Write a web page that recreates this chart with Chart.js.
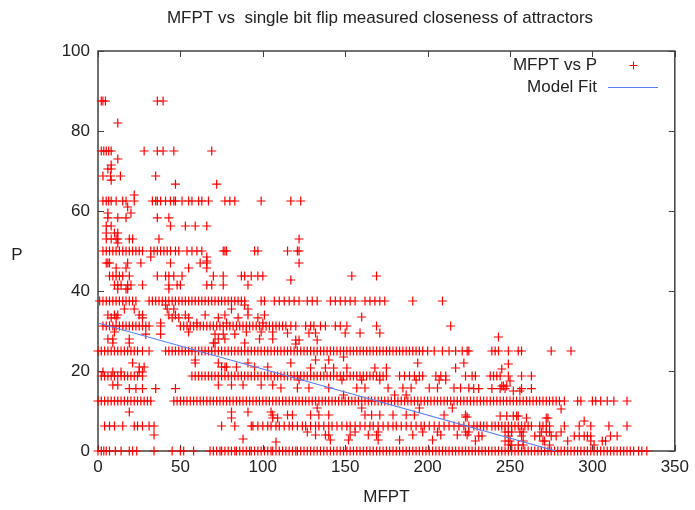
<!DOCTYPE html>
<html><head><meta charset="utf-8">
<script src="https://cdn.jsdelivr.net/npm/chart.js@4"></script>
<style>html,body{margin:0;padding:0;background:#fff}#wrap{width:695px;height:510px}</style>
</head><body><div id="wrap"><canvas id="c" width="695" height="510"></canvas></div>
<script>
const titleText = "MFPT vs  single bit flip measured closeness of attractors";
const xLabel = "MFPT";
const yLabel = "P";
const seriesName = "MFPT vs P";
const fitName = "Model Fit";
const xTickValues = [0, 50, 100, 150, 200, 250, 300, 350];
const yTickValues = [0, 20, 40, 60, 80, 100];

// P levels where MFPT values line up in rows
const rowLevels = [0, 6.25, 12.5, 18.75, 25, 31.25, 37.5, 43.75, 50, 56.25, 62.5, 68.75, 75, 87.5];
const mfptAtP0 = [0,2,3.5,5,7,10.5,14,19,21,23.5,34,45,50,52,58,68,70,72,74,75,77,79,81,83,84,86,88,90,92,93,95,97,99,101,103,105,106,108,110,112,114,116,118,120,121,123,125,127,129,131,133,135,137,139,141,143,145,147,149,151,153,155,157,159,161,163,165,167,169,171,173,175,177,179,181,183,185,187,189,191,193,195,197,199,201,203,205,207,209,211,213,215,217,219,221,223,225,227,229,231,233,235,237,239,241,243,245,247,249,251,253,255,257,259,261,263,265,267,269,271,273,275,277,279,281,283,285,287,289,291,293,295,297,299,301,303,305,307,309,311,313,315,317,319,321,323,325,328,330,333];
const mfptAtP6 = [4,7,10,15,22,24,27,31,34,75,83,93,94,97,100,103,105,108,110,113,116,118,121,124,126,129,132,134,137,140,142,145,148,151,153,156,159,162,165,167,170,173,176,179,181,184,187,190,193,196,198,201,204,207,210,213,216,219,222,225,228,230,232,234,236,239,241,243,245,247,249,251,253,255,257,259,261,263,268,270,272,274,283,292,299,310,321];
const mfptAtP12 = [0,2,4,6,8,10,12,14,16,18,20,22,24,26,28,30,32,46,48,50,52,54,56,58,60,62,64,66,68,70,72,74,76,78,80,82,84,86,88,90,92,94,96,98,100,102,104,106,108,110,112,114,116,118,120,122,124,126,128,130,132,134,136,138,140,142,144,146,148,150,152,154,156,158,160,162,164,166,168,170,172,174,176,178,180,182,184,186,188,190,192,194,196,198,200,202,204,206,208,210,212,214,216,218,220,222,224,226,228,230,232,234,236,238,240,242,244,246,248,250,252,254,256,258,260,262,264,266,268,270,272,274,276,278,280,283,291,293,300,302,305,309,313,321];
const mfptAtP18 = [2,4,6,8,10,12,14,16,18,20,22,24,27,57,59,61,63,65,67,69,71,73,75,77,79,81,83,85,87,89,91,93,95,97,99,101,103,105,107,109,111,113,115,117,119,121,123,125,127,129,131,133,135,137,139,141,143,145,147,149,151,153,155,157,159,161,163,165,167,169,171,173,175,183,186,189,192,195,197,205,208,211,223,227,229,238,240,242,244,249,257,263];
const mfptAtP25 = [0,2,4,6,8,10,12,14,16,18,20,22,24,27,31,41,43,45,47,49,51,53,55,57,59,61,63,65,67,69,71,73,75,77,79,81,83,85,87,89,91,93,95,97,99,101,103,105,107,109,111,113,115,117,119,121,123,125,127,129,131,133,135,137,139,141,143,145,147,149,151,153,155,157,159,161,163,165,167,169,171,173,175,177,179,181,183,185,187,189,191,193,195,197,200,204,209,213,217,221,224,225,239,241,243,249,255,257,275,287];
const mfptAtP31 = [3,5,7,9,11,13,15,17,19,21,23,25,27,29,31,38,50,52,54,56,58,60,62,64,66,68,70,72,74,76,78,80,82,84,86,88,90,92,94,96,98,100,102,104,106,108,110,112,114,117,120,126,129,131,135,138,144,147,151,169,214];
const mfptAtP37 = [1,3,5,7,9,11,13,15,17,19,21,23,31,33,35,37,39,41,43,45,47,49,51,53,55,57,59,61,63,65,67,69,71,73,75,77,79,81,83,85,87,89,99,101,107,110,113,116,119,122,127,130,133,141,144,147,150,153,156,162,165,168,171,174,191,209];
const mfptAtP43 = [7,9,11,13,15,19,36,41,43,46,51,70,76,87,89,93,97,100,154,169];
const mfptAtP50 = [3,5,7,9,11,13,15,17,19,21,23,25,27,32,34,36,38,40,42,44,47,49,54,57,60,63,76,77,78,95,97,115,121,122];
const mfptAtP56 = [5,8,44,53,59,66];
const mfptAtP62 = [3,5,6.5,8,11,15,17,22,33,35,36,38,41,44,46,47,51,55,57,61,63,67,77,80,83,99,117,123];
const mfptAtP68 = [3,7.6,13.6,35];
const mfptAtP75 = [2,3.5,5,6.5,8,28,36,39.5,46,69];
const mfptAtP87 = [2,3,4.5,36,39.5];
const rowMfpt = [mfptAtP0, mfptAtP6, mfptAtP12, mfptAtP18, mfptAtP25, mfptAtP31, mfptAtP37, mfptAtP43, mfptAtP50, mfptAtP56, mfptAtP62, mfptAtP68, mfptAtP75, mfptAtP87];

// points off the main rows
const otherMfpt = [12,12,8,6,8,8,47,72,22,18,6,20,6,12,17,36,43,5,10,12,5,8,11,12,19,21,37,122,12,32,66,66,5,6,7,18,26,44,62,66,122,11,17,55,66,117,10,12,14,18,20,27,43,48,50,66,69,76,91,12,17,18,43,16,22,42,46,81,91,41,89,6,10,12,25,27,43,47,53,65,77,91,101,8,11,27,45,49,55,73,85,97,160,38,60,78,100,10,55,90,99,106,29,38,71,76,83,115,128,132,150,159,171,6,9,19,73,77,98,106,120,122,133,243,9,19,70,71,89,120,21,59,73,91,59,132,140,149,117,194,222,249,25,28,75,77,78,84,95,103,129,138,143,151,168,175,217,245,3,9,14,25,27,122,148,160,171,193,207,211,250,9,12,73,81,88,99,106,245,246,248,19,23,27,35,47,111,121,128,140,157,162,176,185,190,201,206,216,220,225,228,231,239,244,247,257,263,149,180,187,252,256,19,81,91,105,133,160,195,215,281,106,115,118,129,134,140,162,166,171,179,187,192,210,223,244,248,252,254,255,81,106,109,223,224,260,272,273,295,34,88,108,127,156,170,197,206,132,138,140,153,164,169,191,208,218,224,141,152,170,183,203,231,233,249,257,265,268,275,278,289,292,295,297,299,311,315,229,247,250,258,270,271,285,299,306,308,249,251,255,258,274,301,223,225,247,249,251,256,258,269,272,274,281];
const otherP = [82,73,71.5,70.5,70.5,67.7,66.7,66.7,64,61,59.5,59.5,58.3,58.3,58.3,58.3,58.3,54.5,54.5,54.5,53,53,53,53,53,53,53,53,52,48.5,48.5,47.5,47,47,47,47,47,47,47,47,47,45.75,45.75,45.75,45.75,42.75,41.5,41.5,41.5,41.5,41.5,41.5,41.5,41.5,41.5,41.5,41.5,41.5,41.5,40.5,40.5,40.5,40.5,35.5,35.5,35.5,35.5,35.5,35.5,36.5,36.5,34,34,34,34,34,34,34,34,34,34,34,34,33.3,33.3,33.3,33.3,33.3,33.3,33.3,33.3,33.3,33.5,32,32,32,32,29.75,29.75,29.75,29.75,29.75,29.2,29.2,29.2,29.2,29.2,29.5,29.5,29.5,29.5,29.5,29.5,28,28,28,28,28,28,28,27.75,27.75,27.75,28.5,27,27,27,27,27,26.75,22,22,22,22,22.75,22.75,22.75,23.5,22,22,22,21.75,21,21,21,21,21,21,21,21,20.75,20.75,20.75,20.75,20.75,20.75,20.75,20.5,19.75,19.75,19.75,19.75,19.75,17.75,17.75,17.75,17.75,17.75,17.75,17.75,17.5,16.5,16.5,16.5,16.5,16.5,16.5,16.5,16.25,16.25,16.25,15.6,15.6,15.6,15.6,15.6,15.75,15.75,15.75,15.75,15.75,15.75,15.75,15.75,15.75,15.75,15.75,15.75,15.75,15.75,15.6,15.6,15.6,15.6,15.6,15.6,15.6,14,14,14,15,15,9.75,9.75,9.75,9.75,10.75,10.75,10.75,10.75,10.5,9,9,9,9,9,9,9,9,9,9,9,9,9,9,8.75,8.75,8.75,8.75,8.75,8.25,8.25,8.25,8.5,8.5,8.25,8.25,8.25,7.5,4,3,2.25,4.75,4.75,4.75,4.75,4.75,4,4,4,4,4,4,4,4,4,4,2.75,2.75,2.75,2.75,2.75,3.75,3.75,3.75,3.75,3.75,3.75,3.75,3.75,3.75,3.75,3.75,3.75,3.75,3.75,3.75,2.5,2.5,2.5,2.5,2.5,2.5,2.5,2.5,2.5,2.5,1.5,1.5,1.5,1.5,1.5,1.5,4.75,4.75,4.75,4.75,4.75,4.75,4.75,4.75,4.75,4.75,4.75];

// fitted line end points
const fitMfpt = [0, 278];
const fitP = [32, 0];

const FONT = '"Liberation Sans", Arial, sans-serif';
const TXT = '#222222';
const FRAME = '#404040';
const PT_COLOR = 'rgb(255,0,0)';
const FIT_COLOR = '#5a7ef0';

const scatterPts = [];
rowMfpt.forEach((arr, i) => arr.forEach(v => scatterPts.push({x: v, y: rowLevels[i]})));
otherMfpt.forEach((v, i) => scatterPts.push({x: v, y: otherP[i]}));
const fitPts = fitMfpt.map((v, i) => ({x: v, y: fitP[i]}));

function drawCross(ctx, x, y, r) {
  ctx.beginPath();
  ctx.moveTo(x - r, y); ctx.lineTo(x + r, y);
  ctx.moveTo(x, y - r); ctx.lineTo(x, y + r);
  ctx.stroke();
}

const deco = {
  id: 'deco',
  beforeDatasetsDraw(chart) {
    const {ctx, chartArea: a, scales: {x, y}} = chart;
    ctx.save();
    ctx.strokeStyle = FRAME;
    ctx.lineWidth = 1;
    xTickValues.forEach(v => {
      const px = Math.round(x.getPixelForValue(v)) + 0.5;
      ctx.beginPath();
      ctx.moveTo(px, a.bottom); ctx.lineTo(px, a.bottom - 6);
      ctx.moveTo(px, a.top); ctx.lineTo(px, a.top + 6);
      ctx.stroke();
    });
    yTickValues.forEach(v => {
      const py = Math.round(y.getPixelForValue(v)) + 0.5;
      ctx.beginPath();
      ctx.moveTo(a.left, py); ctx.lineTo(a.left + 6, py);
      ctx.moveTo(a.right, py); ctx.lineTo(a.right - 6, py);
      ctx.stroke();
    });
    ctx.lineWidth = 1.5;
    ctx.strokeRect(a.left, a.top, a.right - a.left, a.bottom - a.top);
    ctx.restore();
  },
  afterDraw(chart) {
    const {ctx, chartArea: a} = chart;
    ctx.save();
    ctx.fillStyle = TXT;
    ctx.font = '17px ' + FONT;
    ctx.textBaseline = 'middle';
    ctx.textAlign = 'center';
    ctx.fillText(titleText, 380, 18);
    ctx.fillText(xLabel, (a.left + a.right) / 2, 497);
    ctx.fillText(yLabel, 17, 255);
    // legend
    ctx.textAlign = 'right';
    ctx.fillText(seriesName, 597, 65);
    ctx.fillText(fitName, 597, 87);
    ctx.strokeStyle = PT_COLOR;
    ctx.lineWidth = 1;
    drawCross(ctx, 633.5, 65.5, 4);
    ctx.strokeStyle = FIT_COLOR;
    ctx.beginPath();
    ctx.moveTo(608, 87.5); ctx.lineTo(658, 87.5);
    ctx.stroke();
    ctx.restore();
  }
};

new Chart(document.getElementById('c'), {
  type: 'scatter',
  data: {
    datasets: [
      {
        type: 'line', label: fitName, data: fitPts, order: 0,
        borderColor: FIT_COLOR, borderWidth: 1.2, pointRadius: 0, fill: false, tension: 0
      },
      {
        label: seriesName, data: scatterPts, order: 1, clip: false,
        pointStyle: 'cross', pointRadius: 4.5, pointBorderWidth: 1.2,
        borderColor: PT_COLOR, backgroundColor: PT_COLOR, pointHoverRadius: 4.5
      }
    ]
  },
  plugins: [deco],
  options: {
    responsive: false,
    animation: false,
    events: [],
    layout: {padding: {top: 51, right: 13, left: 0, bottom: 0}},
    plugins: {legend: {display: false}, title: {display: false}, tooltip: {enabled: false}},
    scales: {
      x: {
        type: 'linear', min: 0, max: 350,
        afterFit(s) { s.height = 59; },
        afterBuildTicks(s) { s.ticks = xTickValues.map(v => ({value: v})); },
        grid: {display: false, drawTicks: false}, border: {display: false},
        ticks: {color: TXT, font: {family: FONT, size: 17}, padding: 6, maxRotation: 0}
      },
      y: {
        type: 'linear', min: 0, max: 100,
        afterFit(s) { s.width = 98; },
        afterBuildTicks(s) { s.ticks = yTickValues.map(v => ({value: v})); },
        grid: {display: false, drawTicks: false}, border: {display: false},
        ticks: {color: TXT, font: {family: FONT, size: 17}, padding: 8}
      }
    }
  }
});
</script>
</body></html>
